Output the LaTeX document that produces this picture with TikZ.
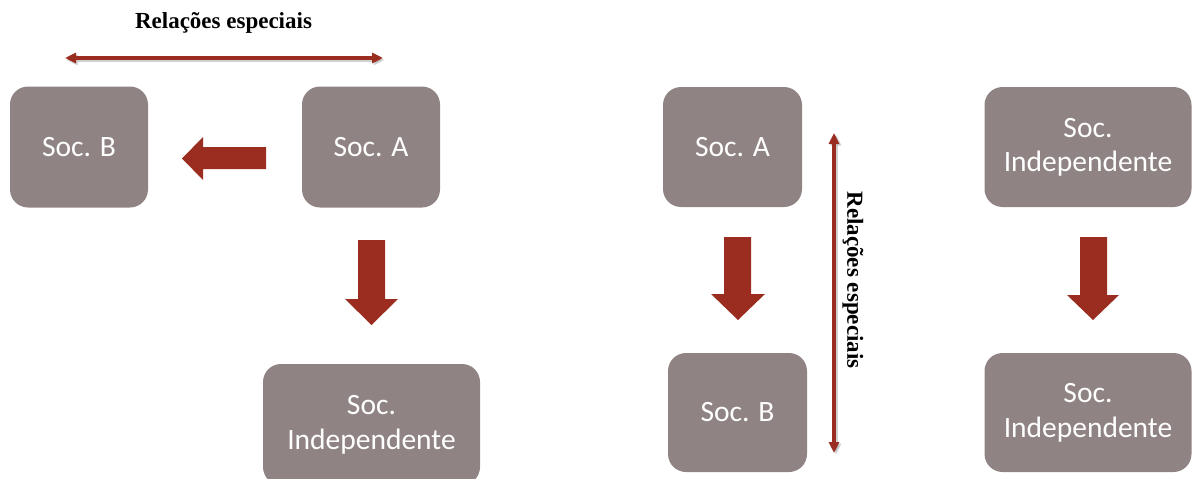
\documentclass[tikz,border=0pt]{standalone}
\usepackage{fontspec}
\setmainfont{Carlito}
\newfontfamily\labelfont{Liberation Serif}
\usetikzlibrary{arrows.meta}
\definecolor{boxgray}{HTML}{8F8483}
\definecolor{arrred}{HTML}{9A2C20}
\tikzset{
  socbox/.style={fill=boxgray, rounded corners=18pt, inner sep=0pt, text=white,
    align=center, font=\fontsize{29.5}{35}\selectfont},
  blockarrow/.style={fill=arrred, draw=none},
  relline/.style={draw=arrred, line width=3.2pt, {Triangle[length=11pt,width=10pt]}-{Triangle[length=11pt,width=10pt]}},
  relshadow/.style={draw=black!40, line width=3.2pt, opacity=0.45, {Triangle[length=11pt,width=10pt]}-{Triangle[length=11pt,width=10pt]}},
  rellabel/.style={font=\labelfont\bfseries\fontsize{23}{27}\selectfont, inner sep=0pt}
}
\begin{document}
\begin{tikzpicture}[x=1pt,y=-1pt]
\useasboundingbox (0,0) rectangle (1192,479);
\clip (0,0) rectangle (1192,479);
% left group
\node[socbox, minimum width=138pt, minimum height=121pt] (socB1) at (79,147) {Soc. B};
\node[socbox, minimum width=138pt, minimum height=121pt] (socA1) at (371,147) {Soc. A};
\node[socbox, minimum width=217pt, minimum height=121pt] (ind1) at (371.5,424.5) {Soc.\\Independente};
\node[rellabel] (lab1) at (223.5,23) {Relações especiais};
\coordinate (h1) at (65,58);
\coordinate (h2) at (383,58);
\draw[relshadow] ([shift={(1.5,2)}]h1) -- ([shift={(1.5,2)}]h2);
\draw[relline] (h1) -- (h2);
\fill[blockarrow] (266,147) -- (203,147) -- (203,137) -- (182,158.5) -- (203,180) -- (203,169) -- (266,169) -- cycle;
\fill[blockarrow] (358,240) -- (385,240) -- (385,299) -- (398,299) -- (371.5,325) -- (345,299) -- (358,299) -- cycle;
% middle group
\node[socbox, minimum width=139pt, minimum height=120pt] (socA2) at (732.5,147) {Soc. A};
\node[socbox, minimum width=139pt, minimum height=119pt] (socB2) at (737.5,412.5) {Soc. B};
\fill[blockarrow] (724,237) -- (751,237) -- (751,294) -- (765,294) -- (738,320) -- (711,294) -- (724,294) -- cycle;
\coordinate (v1) at (834,133);
\coordinate (v2) at (834,453);
\draw[relshadow] ([shift={(2,1.5)}]v1) -- ([shift={(2,1.5)}]v2);
\draw[relline] (v1) -- (v2);
\node[rellabel, rotate=-90] (lab2) at (853,280) {Relações especiais};
% right group
\node[socbox, minimum width=207pt, minimum height=120pt] (ind2) at (1088,147) {Soc.\\[-1pt]Independente};
\node[socbox, minimum width=207pt, minimum height=119pt] (ind3) at (1088,412.5) {Soc.\\Independente};
\fill[blockarrow] (1080,237) -- (1107,237) -- (1107,295) -- (1119,295) -- (1093,320) -- (1067,295) -- (1080,295) -- cycle;
\end{tikzpicture}
\end{document}
